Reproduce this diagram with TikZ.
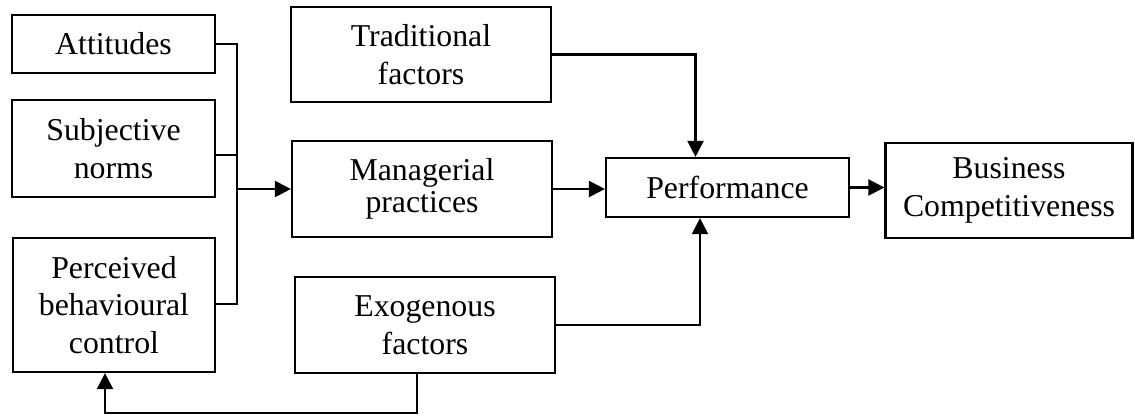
\documentclass[tikz,border=0pt]{standalone}
\usepackage{fontspec}
\setmainfont{Liberation Serif}
\usetikzlibrary{arrows.meta}
\begin{document}
\begin{tikzpicture}[x=1pt,y=-1pt,
  box/.style={draw,line width=2.2pt,inner sep=0pt,align=center,
    font=\fontsize{31.8pt}{37.5pt}\selectfont},
  conn/.style={line width=2.2pt},
  arr/.style={line width=2.2pt,-{Triangle[length=16pt,width=16pt]}}]
\useasboundingbox (0,0) rectangle (1135,417);
\node[box,minimum width=203pt,minimum height=58pt] (att) at (113.5,44) {Attitudes};
\node[box,minimum width=203pt,minimum height=97pt] (subj) at (113.5,148.5) {Subjective\\norms};
\node[box,minimum width=202pt,minimum height=134pt] (pbc) at (114,305) {Perceived\\behavioural\\control};
\node[box,minimum width=260pt,minimum height=95pt] (trad) at (421,54.5) {Traditional\\factors};
\node[box,minimum width=260pt,minimum height=96pt] (man) at (422,189) {Managerial\\[-5pt]practices};
\node[box,minimum width=260pt,minimum height=96pt] (exo) at (425,325) {Exogenous\\factors};
\node[box,minimum width=243pt,minimum height=59pt] (perf) at (727.5,187.5) {Performance};
\node[box,minimum width=247pt,minimum height=95pt] (bus) at (1009,190.5) {Business\\Competitiveness};
\coordinate (bustop) at (237,44);
\coordinate (busbot) at (237,304);
\coordinate (low) at (0,413);
\draw[conn] (att.east) -- (bustop) -- (busbot) -- (pbc.east |- busbot);
\draw[conn] (subj.east |- 0,155) -- (bustop |- 0,155);
\draw[arr] (man.west -| bustop) -- (man.west);
\draw[arr] (man.east) -- (perf.west |- man.east);
\draw[arr] (trad.east) -| ([xshift=-32pt]perf.north);
\draw[arr] (exo.east) -| ([xshift=-27.5pt]perf.south);
\draw[arr] (perf.east) -- (bus.west |- perf.east);
\draw[arr] ([xshift=-8pt]exo.south) -- ([xshift=-8pt]exo.south |- low) -| ([xshift=-9pt]pbc.south);
\end{tikzpicture}
\end{document}
